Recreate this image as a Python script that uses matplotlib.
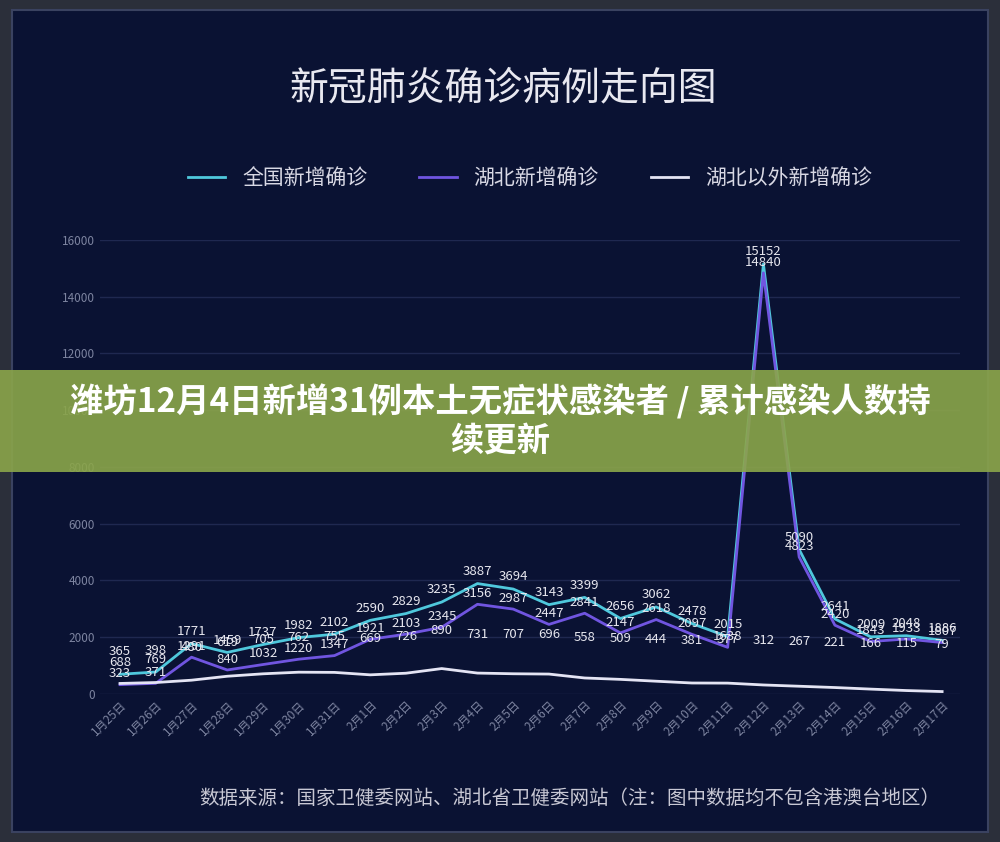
import matplotlib.pyplot as plt
import matplotlib.patches as mpatches

plt.rcParams['font.family'] = ['Noto Sans CJK SC', 'DejaVu Sans']

dates = ['1月25日', '1月26日', '1月27日', '1月28日', '1月29日', '1月30日', '1月31日', '2月1日',
         '2月2日', '2月3日', '2月4日', '2月5日', '2月6日', '2月7日', '2月8日', '2月9日',
         '2月10日', '2月11日', '2月12日', '2月13日', '2月14日', '2月15日', '2月16日', '2月17日']
national = [688, 769, 1771, 1459, 1737, 1982, 2102, 2590, 2829, 3235, 3887, 3694,
            3143, 3399, 2656, 3062, 2478, 2015, 15152, 5090, 2641, 2009, 2048, 1886]
hubei = [323, 371, 1291, 840, 1032, 1220, 1347, 1921, 2103, 2345, 3156, 2987,
         2447, 2841, 2147, 2618, 2097, 1638, 14840, 4823, 2420, 1843, 1933, 1807]
outside = [365, 398, 480, 619, 705, 762, 755, 669, 726, 890, 731, 707,
           696, 558, 509, 444, 381, 377, 312, 267, 221, 166, 115, 79]

bg = '#0a1233'
fig = plt.figure(figsize=(10, 8.42), dpi=100, facecolor='#2b2f3a')
fig.patches.append(mpatches.Rectangle((0.012, 0.012), 0.976, 0.976, transform=fig.transFigure,
                                      facecolor=bg, edgecolor='#3a4260', lw=1.5, zorder=-1))
ax = fig.add_axes([0.10, 0.176, 0.86, 0.539])
ax.set_zorder(1)
ax.set_facecolor(bg)

x = list(range(len(dates)))
ax.plot(x, national, color='#4fc8dc', lw=2, label='全国新增确诊')
ax.plot(x, hubei, color='#7055e0', lw=2, label='湖北新增确诊')
ax.plot(x, outside, color='#e4e4f4', lw=2, label='湖北以外新增确诊')

for i in x:
    ax.annotate(str(national[i]), (i, national[i]), xytext=(0, 4), textcoords='offset points',
                ha='center', va='bottom', color='#e6e6ee', fontsize=9.5)
    ax.annotate(str(hubei[i]), (i, hubei[i]), xytext=(0, 3), textcoords='offset points',
                ha='center', va='bottom', color='#e6e6ee', fontsize=9.5)
    ax.annotate(str(outside[i]), (i, outside[i]), xytext=(0, 18 + i * 0.5), textcoords='offset points',
                ha='center', va='bottom', color='#e6e6ee', fontsize=9.5)

ax.set_xlim(-0.56, 23.5)
ax.set_ylim(0, 16000)
ax.set_yticks(range(0, 16001, 2000))
ax.set_xticks(x)
ax.set_xticklabels(dates, rotation=45, ha='right', rotation_mode='anchor')
ax.tick_params(colors='#7d84a0', labelsize=8.5, length=0)
ax.grid(axis='y', color='#1f2850', lw=1)
for s in ax.spines.values():
    s.set_visible(False)

fig.text(0.503, 0.895, '新冠肺炎确诊病例走向图', ha='center', va='center', fontsize=28, color='#e8e8f0')
ax.legend(loc='lower center', bbox_to_anchor=(0.5, 1.07), ncol=3, frameon=False,
          fontsize=15, labelcolor='#d8d8e4', handlelength=1.8, columnspacing=2.5)
fig.text(0.57, 0.052, '数据来源：国家卫健委网站、湖北省卫健委网站（注：图中数据均不包含港澳台地区）',
         ha='center', va='center', fontsize=14, color='#c8c8d4')

fig.patches.append(mpatches.Rectangle((0, 0.44), 1, 0.12, transform=fig.transFigure,
                                      facecolor='#8ba64a', alpha=0.9, zorder=5))
fig.text(0.5, 0.5, '潍坊12月4日新增31例本土无症状感染者 / 累计感染人数持\n续更新', ha='center', va='center',
         fontsize=24, fontweight='bold', color='white', zorder=6, linespacing=1.2)

fig.savefig('out.png', dpi=100, facecolor=fig.get_facecolor())
